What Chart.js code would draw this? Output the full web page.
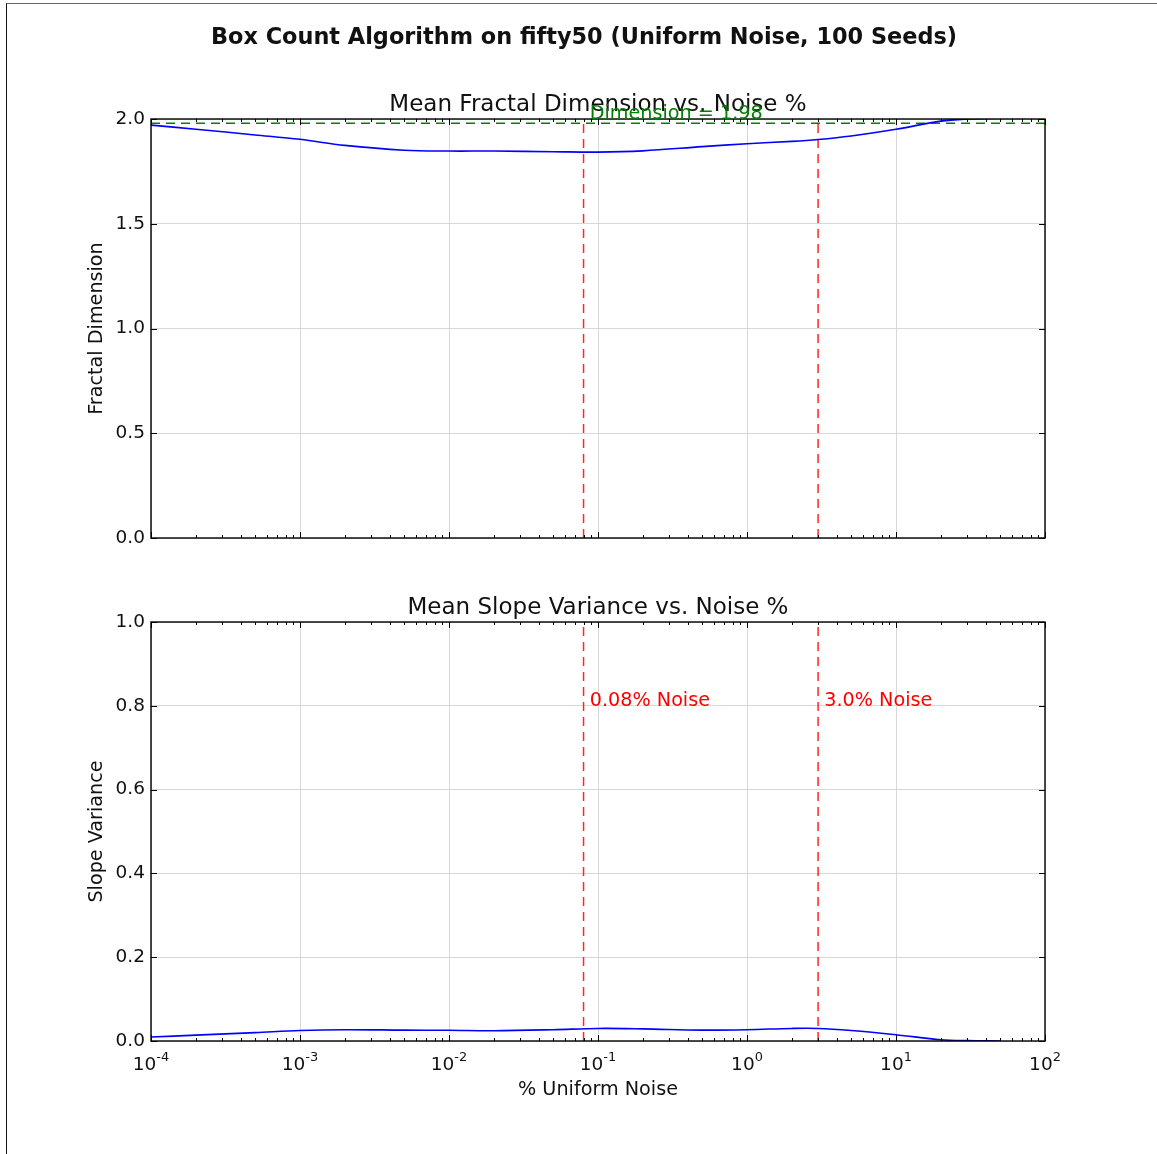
<!DOCTYPE html>
<html>
<head>
<meta charset="utf-8">
<title>Box Count Algorithm on fifty50</title>
<script src="https://cdn.jsdelivr.net/npm/chart.js@4.4.1/dist/chart.umd.min.js"></script>
<style>
  html, body { margin: 0; padding: 0; background: #fff; }
  #page { position: relative; width: 1157px; height: 1154px; overflow: hidden; }
  #page canvas { position: absolute; left: 0; top: 0; }
  #frame { position: absolute; left: 6px; top: 3px; right: 0; bottom: 0;
           border-left: 1px solid #111; border-top: 1px solid #666; }
</style>
</head>
<body>
<div id="page">
  <div id="frame"></div>
  <canvas id="dimChart" width="1157" height="1154"></canvas>
  <canvas id="varChart" width="1157" height="1154"></canvas>
</div>
<script>
// noise levels (%) and the mean results over 100 seeds
const noisePct = [0.0001, 0.0002, 0.0005, 0.001, 0.002, 0.005, 0.01, 0.02, 0.05, 0.1,
                  0.2, 0.5, 1, 2, 3, 5, 10, 20, 30, 50];
const fractalDim = [1.971, 1.951, 1.924, 1.903, 1.874, 1.851, 1.847, 1.847, 1.844, 1.842,
                    1.848, 1.868, 1.882, 1.893, 1.902, 1.919, 1.951, 1.990, 2.000, 2.004];
const slopeVar = [0.0095, 0.014, 0.020, 0.025, 0.027, 0.026, 0.0255, 0.0245, 0.027, 0.030,
                  0.029, 0.026, 0.027, 0.030, 0.030, 0.025, 0.015, 0.003, 0.0008, 0.0];

const meanDim = 1.98;
const cutoffs = [0.08, 3.0];
const cutoffLabels = ['0.08% Noise', '3.0% Noise'];

const decadeExps = [-4, -3, -2, -1, 0, 1, 2];
const dimTicks = [0, 0.5, 1.0, 1.5, 2.0];
const varTicks = [0, 0.2, 0.4, 0.6, 0.8, 1.0];

const FONT = '"DejaVu Sans", "Liberation Sans", sans-serif';
const TICK_PX = 18.5, LABEL_PX = 19.2, TITLE_PX = 23, SUP_PX = 22.4;

const pts = (xs, ys) => xs.map((x, i) => ({ x: x, y: ys[i] }));
const vline = (x, lo, hi) => [{ x: x, y: lo }, { x: x, y: hi }];

// matplotlib-ish axes: inward ticks on all sides, frame, labels, titles
const mplAxes = {
  id: 'mplAxes',
  afterDraw(chart, args, o) {
    const ctx = chart.ctx, a = chart.chartArea;
    const xs = chart.scales.x, ys = chart.scales.y;
    ctx.save();

    ctx.strokeStyle = '#000';
    ctx.lineWidth = 1;
    ctx.beginPath();
    for (const e of decadeExps) {
      for (let m = 1; m <= 9; m++) {
        const v = m * Math.pow(10, e);
        if (v > xs.max * 1.0001) break;
        const px = Math.round(xs.getPixelForValue(v)) + 0.5;
        const len = m === 1 ? 6 : 3;
        ctx.moveTo(px, a.bottom); ctx.lineTo(px, a.bottom - len);
        ctx.moveTo(px, a.top); ctx.lineTo(px, a.top + len);
      }
    }
    for (const v of o.yTicks) {
      const py = Math.round(ys.getPixelForValue(v)) + 0.5;
      ctx.moveTo(a.left, py); ctx.lineTo(a.left + 6, py);
      ctx.moveTo(a.right, py); ctx.lineTo(a.right - 6, py);
    }
    ctx.stroke();

    ctx.lineWidth = 1.4;
    ctx.strokeRect(a.left, a.top, a.right - a.left, a.bottom - a.top);

    ctx.fillStyle = '#111';
    ctx.font = TICK_PX + 'px ' + FONT;
    ctx.textAlign = 'right';
    ctx.textBaseline = 'middle';
    for (const v of o.yTicks) {
      ctx.fillText(v.toFixed(1), a.left - 6, ys.getPixelForValue(v));
    }

    if (o.xTickLabels) {
      const supPx = TICK_PX * 0.7;
      ctx.textAlign = 'left';
      ctx.textBaseline = 'alphabetic';
      for (const e of decadeExps) {
        const px = xs.getPixelForValue(Math.pow(10, e));
        ctx.font = TICK_PX + 'px ' + FONT;
        const w1 = ctx.measureText('10').width;
        ctx.font = supPx + 'px ' + FONT;
        const w2 = ctx.measureText(String(e)).width;
        const x0 = px - (w1 + w2) / 2;
        ctx.font = TICK_PX + 'px ' + FONT;
        ctx.fillText('10', x0, a.bottom + 29);
        ctx.font = supPx + 'px ' + FONT;
        ctx.fillText(String(e), x0 + w1, a.bottom + 20);
      }
    }

    ctx.textAlign = 'center';
    ctx.textBaseline = 'alphabetic';
    if (o.xLabel) {
      ctx.font = LABEL_PX + 'px ' + FONT;
      ctx.fillText(o.xLabel, (a.left + a.right) / 2, a.bottom + 54);
    }

    ctx.save();
    ctx.translate(97, (a.top + a.bottom) / 2);
    ctx.rotate(-Math.PI / 2);
    ctx.textBaseline = 'middle';
    ctx.font = LABEL_PX + 'px ' + FONT;
    ctx.fillText(o.yLabel, 0, 0);
    ctx.restore();

    ctx.font = TITLE_PX + 'px ' + FONT;
    ctx.fillText(o.title, (a.left + a.right) / 2, a.top - 8);

    if (o.supTitle) {
      ctx.font = 'bold ' + SUP_PX + 'px ' + FONT;
      ctx.fillText(o.supTitle, 584, 44);
    }

    ctx.textAlign = 'left';
    ctx.font = LABEL_PX + 'px ' + FONT;
    for (const n of o.notes) {
      ctx.fillStyle = n.color;
      ctx.fillText(n.text, xs.getPixelForValue(n.x), ys.getPixelForValue(n.y));
    }
    ctx.restore();
  }
};

function makeChart(id, pad, yMax, yTicks, series, extra, axes) {
  const datasets = [{
    data: pts(noisePct, series),
    borderColor: '#0000ff',
    borderWidth: 1.6,
    pointRadius: 0,
    tension: 0.35
  }];
  for (const x of cutoffs) {
    datasets.push({
      data: vline(x, 0, yMax),
      borderColor: 'rgba(255,0,0,0.85)',
      borderWidth: 1.5,
      borderDash: [9, 6],
      pointRadius: 0
    });
  }
  datasets.push(...extra);

  return new Chart(document.getElementById(id), {
    type: 'line',
    data: { datasets: datasets },
    options: {
      responsive: false,
      animation: false,
      layout: { padding: pad },
      plugins: { legend: { display: false }, tooltip: { enabled: false }, mplAxes: axes },
      scales: {
        x: {
          type: 'logarithmic',
          min: 1e-4,
          max: 100,
          afterBuildTicks: s => { s.ticks = decadeExps.map(e => ({ value: Math.pow(10, e) })); },
          afterFit: s => { s.height = 0; },
          ticks: { display: false },
          grid: { color: '#d8d8d8', lineWidth: 1, drawTicks: false },
          border: { display: false }
        },
        y: {
          type: 'linear',
          min: 0,
          max: yMax,
          afterBuildTicks: s => { s.ticks = yTicks.map(v => ({ value: v })); },
          afterFit: s => { s.width = 0; },
          ticks: { display: false },
          grid: { color: '#d8d8d8', lineWidth: 1, drawTicks: false },
          border: { display: false }
        }
      }
    },
    plugins: [mplAxes]
  });
}

makeChart('dimChart', { left: 151, top: 119, right: 112, bottom: 616 }, 2.0, dimTicks, fractalDim,
  [{
    data: [{ x: 1e-4, y: meanDim }, { x: 100, y: meanDim }],
    borderColor: '#008000',
    borderWidth: 1.5,
    borderDash: [9, 6],
    pointRadius: 0
  }],
  {
    supTitle: 'Box Count Algorithm on fifty50 (Uniform Noise, 100 Seeds)',
    title: 'Mean Fractal Dimension vs. Noise %',
    yLabel: 'Fractal Dimension',
    yTicks: dimTicks,
    xTickLabels: false,
    notes: [{ x: cutoffs[0] * 1.1, y: 2.0, text: 'Dimension = ' + meanDim.toFixed(2), color: '#008000' }]
  });

makeChart('varChart', { left: 151, top: 622, right: 112, bottom: 113 }, 1.0, varTicks, slopeVar, [],
  {
    title: 'Mean Slope Variance vs. Noise %',
    yLabel: 'Slope Variance',
    xLabel: '% Uniform Noise',
    yTicks: varTicks,
    xTickLabels: true,
    notes: cutoffs.map((x, i) => ({ x: x * 1.1, y: 0.8, text: cutoffLabels[i], color: '#ff0000' }))
  });
</script>
</body>
</html>
